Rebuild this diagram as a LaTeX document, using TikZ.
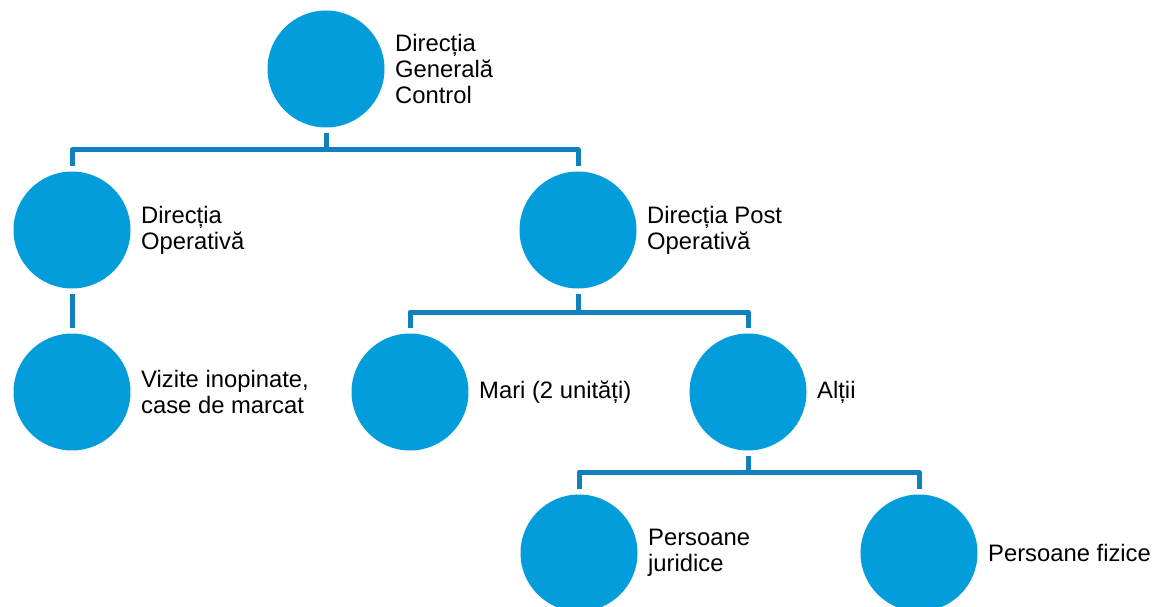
\documentclass[tikz,border=0pt]{standalone}
\usepackage{fontspec}
\setmainfont{Liberation Sans}
\usepackage{tikz}
\usetikzlibrary{positioning}
\definecolor{discblue}{RGB}{4,157,220}
\definecolor{busblue}{RGB}{16,128,190}

\begin{document}
\begin{tikzpicture}[line join=round,x=1pt,y=-1pt,
  disc/.style={circle,fill=discblue,minimum size=117pt,inner sep=0pt,outer sep=5.5pt},
  lbl/.style={right=5pt of #1,inner sep=0pt,align=left,font=\fontsize{23.8}{26}\selectfont},
  bus/.style={draw=busblue,line width=5pt}]
\useasboundingbox (0,0) rectangle (1152,607);
% circles
\node[disc] (dgc) at (326,69) {};
\node[disc] (dop) at (72,230) {};
\node[disc] (dpo) at (578,230) {};
\node[disc] (viz) at (72,392) {};
\node[disc] (mari) at (410,392) {};
\node[disc] (alt) at (748,392) {};
\node[disc] (pj) at (579,553) {};
\node[disc] (pf) at (919,553) {};
% labels
\node[lbl=dgc] (tdgc) {Direcția\\Generală\\Control};
\node[lbl=dop] (tdop) {Direcția\\Operativă};
\node[lbl=dpo] (tdpo) {Direcția Post\\Operativă};
\node[lbl=viz] (tviz) {Vizite inopinate,\\case de marcat};
\node[lbl=mari] (tmari) {Mari (2 unități)};
\node[lbl=alt] (talt) {Alții};
\node[lbl=pj] (tpj) {Persoane\\juridice};
\node[lbl=pf] (tpf) {Persoane fizice};
% connectors
\coordinate (b1) at (326,150);
\coordinate (b2) at (578,312);
\coordinate (b3) at (748,472);
\draw[bus] (dgc.south) -- (b1) -| (dop.north);
\draw[bus] (b1) -| (dpo.north);
\draw[bus] (dop.south) -- (viz.north);
\draw[bus] (dpo.south) -- (b2) -| (mari.north);
\draw[bus] (b2) -| (alt.north);
\draw[bus] (alt.south) -- (b3) -| (pj.north);
\draw[bus] (b3) -| (pf.north);
\end{tikzpicture}
\end{document}
